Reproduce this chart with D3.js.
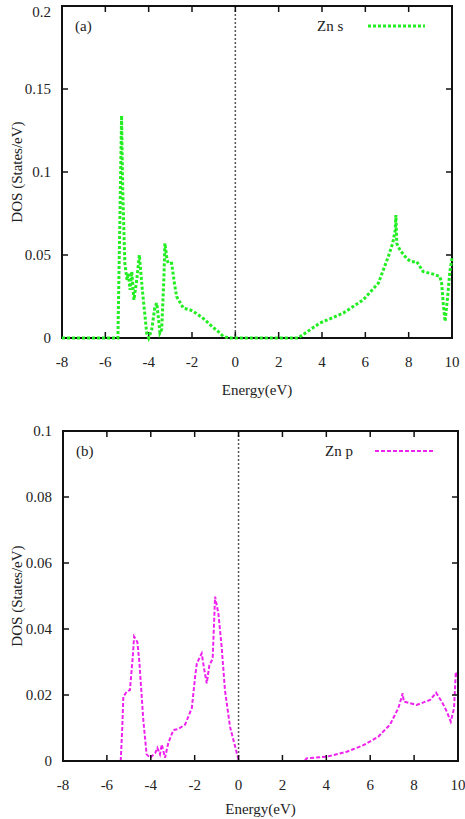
<!DOCTYPE html>
<html>
<head>
<meta charset="utf-8">
<script src="https://cdn.jsdelivr.net/npm/d3@7"></script>
<style>
  body { margin: 0; background: #fff; }
</style>
</head>
<body>
<svg id="chart" width="465" height="819" font-family="'Liberation Serif', 'Times New Roman', Times, 'DejaVu Serif', serif"></svg>
<script>
// energy axis shared by both panels
const energyTicks = [-8, -6, -4, -2, 0, 2, 4, 6, 8, 10];

// panel (a): Zn s
const znSEnergy = [-8, -5.42, -5.33, -5.25, -5.2, -5.1, -5.0, -4.94, -4.86, -4.78, -4.68, -4.55, -4.43, -4.3, -4.09, -4.0,
    -3.86, -3.72, -3.63, -3.55, -3.48, -3.4, -3.3, -3.25, -3.15, -3.09, -2.94, -2.8, -2.71, -2.4, -2.1, -1.94, -1.71,
    -1.4, -1.17, -0.8, -0.56, -0.3, 0, 2.9, 3.9, 4.98, 5.9, 6.6, 7.06, 7.26, 7.38, 7.41, 7.45, 7.6, 7.9, 8.1, 8.37,
    8.67, 9.13, 9.44, 9.52, 9.6, 9.68, 9.8, 9.9, 10];
const znSDos = [0, 0, 0.07, 0.134, 0.09, 0.045, 0.035, 0.039, 0.029, 0.040, 0.023, 0.035, 0.050, 0.03, 0.003, 0,
    0.005, 0.018, 0.021, 0.012, 0.003, 0.005, 0.035, 0.057, 0.047, 0.045, 0.045, 0.032, 0.025, 0.018, 0.017, 0.016, 0.014,
    0.011, 0.008, 0.004, 0.001, 0, 0, 0, 0.009, 0.015, 0.023, 0.033, 0.049, 0.057, 0.065, 0.074, 0.057, 0.053, 0.048, 0.046, 0.046,
    0.040, 0.0385, 0.037, 0.033, 0.02, 0.010, 0.025, 0.04, 0.048];
const znSTicks = [0, 0.05, 0.1, 0.15, 0.2];

// panel (b): Zn p
const znPEnergy = [-5.37, -5.3, -5.25, -5.1, -4.95, -4.82, -4.76, -4.61, -4.52, -4.34, -4.19, -4.03, -3.8, -3.7, -3.58,
    -3.5, -3.35, -3.2, -2.97, -2.75, -2.44, -2.13, -1.98, -1.9, -1.68, -1.57, -1.45, -1.33, -1.18, -1.07, -0.92, -0.77,
    -0.62, -0.39, -0.08, 0.02, 3.0, 3.1, 4.02, 4.93, 5.69, 6.37, 6.9, 7.28, 7.48, 7.53, 8.12, 8.73, 9.0, 9.26, 9.49,
    9.67, 9.82, 9.9, 10];
const znPDos = [0, 0.01, 0.0195, 0.021, 0.0215, 0.0316, 0.0377, 0.036, 0.030, 0.0124, 0.002, 0.001, 0.0024, 0.004, 0.002,
    0.005, 0.001, 0.0055, 0.0094, 0.0097, 0.011, 0.016, 0.0255, 0.0296, 0.0326, 0.028, 0.0235, 0.029, 0.031, 0.0498, 0.0447, 0.0346,
    0.0215, 0.0104, 0.0024, 0, 0, 0.0008, 0.0013, 0.0028, 0.0048, 0.0074, 0.011, 0.016, 0.0205, 0.018, 0.017, 0.0185, 0.0207, 0.018, 0.015,
    0.0119, 0.016, 0.027, 0.025];
const znPTicks = [0, 0.02, 0.04, 0.06, 0.08, 0.1];

const svg = d3.select("#chart");

drawPanel({
    left: 62, right: 452, top: 6, bottom: 338,
    energy: znSEnergy, dos: znSDos, yTicks: znSTicks, yMax: 0.2,
    color: "#22ee22", dash: "3,2", width: 3, curveOnTop: true,
    tag: "(a)", name: "Zn s", nameX: 135, legX: [84, 27]
});

drawPanel({
    left: 63, right: 458, top: 431, bottom: 761,
    energy: znPEnergy, dos: znPDos, yTicks: znPTicks, yMax: 0.1,
    color: "#ee22ee", dash: "4,2", width: 2, curveOnTop: false,
    tag: "(b)", name: "Zn p", nameX: 133, legX: [83, 25]
});

function drawPanel(p) {
    const x = d3.scaleLinear().domain([-8, 10]).range([p.left, p.right]);
    const y = d3.scaleLinear().domain([0, p.yMax]).range([p.bottom, p.top]);
    const data = p.energy.map((e, i) => ({ e, v: p.dos[i] }));
    const g = svg.append("g");

    const line = d3.line().x(d => x(d.e)).y(d => y(d.v));

    const drawCurve = () => g.append("path")
        .datum(data)
        .attr("d", line)
        .attr("fill", "none")
        .attr("stroke", p.color)
        .attr("stroke-width", p.width)
        .attr("stroke-dasharray", p.dash);

    if (!p.curveOnTop) drawCurve();

    // fermi level
    g.append("line")
        .attr("x1", x(0)).attr("x2", x(0))
        .attr("y1", p.top).attr("y2", p.bottom)
        .attr("stroke", "#555")
        .attr("stroke-width", 1.5)
        .attr("stroke-dasharray", "2,2");

    // inward ticks on all four sides
    const tl = 6;
    energyTicks.forEach(t => {
        g.append("line").attr("x1", x(t)).attr("x2", x(t)).attr("y1", p.bottom).attr("y2", p.bottom - tl)
            .attr("stroke", "#111").attr("stroke-width", 1.5);
        g.append("line").attr("x1", x(t)).attr("x2", x(t)).attr("y1", p.top).attr("y2", p.top + tl)
            .attr("stroke", "#111").attr("stroke-width", 1.5);
        g.append("text").attr("x", x(t)).attr("y", p.bottom + 29)
            .attr("text-anchor", "middle").attr("font-size", 15).attr("fill", "#222").text(t);
    });
    p.yTicks.forEach(t => {
        g.append("line").attr("x1", p.left).attr("x2", p.left + tl).attr("y1", y(t)).attr("y2", y(t))
            .attr("stroke", "#111").attr("stroke-width", 1.5);
        g.append("line").attr("x1", p.right).attr("x2", p.right - tl).attr("y1", y(t)).attr("y2", y(t))
            .attr("stroke", "#111").attr("stroke-width", 1.5);
        g.append("text").attr("x", p.left - 11).attr("y", Math.max(y(t) + 5, 17))
            .attr("text-anchor", "end").attr("font-size", 15).attr("fill", "#222").text(String(t));
    });

    g.append("rect")
        .attr("x", p.left).attr("y", p.top)
        .attr("width", p.right - p.left).attr("height", p.bottom - p.top)
        .attr("fill", "none").attr("stroke", "#111").attr("stroke-width", 2);

    if (p.curveOnTop) drawCurve();

    // axis titles
    g.append("text")
        .attr("x", (p.left + p.right) / 2).attr("y", Math.min(p.bottom + 57, 814))
        .attr("text-anchor", "middle").attr("font-size", 15).attr("fill", "#222").text("Energy(eV)");
    g.append("text")
        .attr("transform", `translate(22,${(p.top + p.bottom) / 2}) rotate(-90)`)
        .attr("text-anchor", "middle").attr("font-size", 15).attr("fill", "#222").text("DOS (States/eV)");

    // panel tag and legend
    g.append("text").attr("x", p.left + 13).attr("y", p.top + 25).attr("font-size", 15).attr("fill", "#222").text(p.tag);
    g.append("text").attr("x", p.right - p.nameX).attr("y", p.top + 25).attr("font-size", 15).attr("fill", "#222").text(p.name);
    g.append("line")
        .attr("x1", p.right - p.legX[0]).attr("x2", p.right - p.legX[1])
        .attr("y1", p.top + 20).attr("y2", p.top + 20)
        .attr("stroke", p.color).attr("stroke-width", p.width).attr("stroke-dasharray", p.dash);
}
</script>
</body>
</html>
